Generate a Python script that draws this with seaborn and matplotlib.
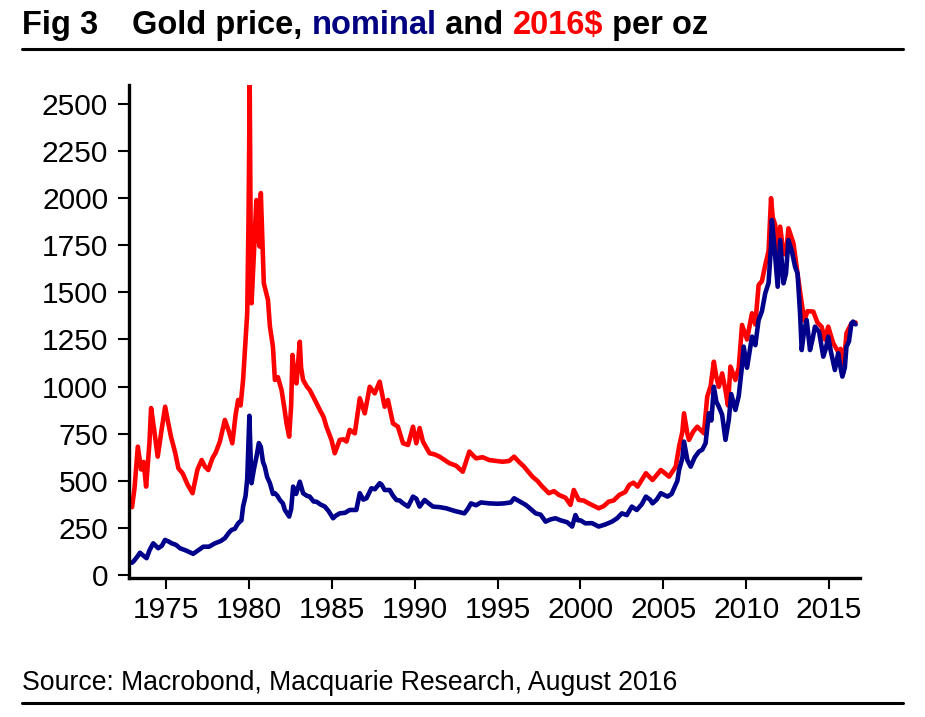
import pandas as pd
import matplotlib
matplotlib.use('Agg')
from matplotlib import pyplot as plt
from matplotlib.lines import Line2D
import seaborn as sns

# Gold price in nominal US$ per oz
nominal_years = [1972.95, 1973.03, 1973.25, 1973.43, 1973.6, 1973.83, 1974.0, 1974.23, 1974.53, 1974.75,
                 1974.94, 1975.15, 1975.34, 1975.6, 1975.84, 1976.2, 1976.64, 1976.9, 1977.25, 1977.6,
                 1977.95, 1978.3, 1978.55, 1978.8, 1978.96, 1979.15, 1979.35, 1979.55, 1979.65, 1979.8,
                 1979.9, 1979.97, 1980.03, 1980.1, 1980.16, 1980.3, 1980.46, 1980.6, 1980.72, 1980.85,
                 1980.96, 1981.1, 1981.27, 1981.45, 1981.57, 1981.72, 1981.87, 1982.05, 1982.17, 1982.43,
                 1982.55, 1982.67, 1982.85, 1983.07, 1983.15, 1983.27, 1983.5, 1983.67, 1983.9, 1984.08,
                 1984.3, 1984.58, 1984.8, 1985.08, 1985.25, 1985.48, 1985.8, 1986.08, 1986.48, 1986.69,
                 1986.9, 1987.09, 1987.39, 1987.6, 1987.89, 1988.0, 1988.19, 1988.49, 1988.7, 1988.9,
                 1989.1, 1989.3, 1989.6, 1989.9, 1990.1, 1990.3, 1990.6, 1990.85, 1991.1, 1991.5,
                 1991.9, 1992.4, 1993.0, 1993.2, 1993.4, 1993.7, 1994.0, 1994.5, 1995.0, 1995.4,
                 1995.8, 1996.0, 1996.3, 1996.7, 1997.0, 1997.3, 1997.6, 1997.9, 1998.2, 1998.5,
                 1998.8, 1999.2, 1999.5, 1999.7, 1999.85, 2000.0, 2000.3, 2000.7, 2001.1, 2001.5,
                 2001.9, 2002.2, 2002.5, 2002.8, 2003.1, 2003.4, 2003.7, 2003.95, 2004.2, 2004.35,
                 2004.6, 2004.85, 2005.05, 2005.25, 2005.5, 2005.65, 2005.85, 2005.95, 2006.15, 2006.25,
                 2006.45, 2006.65, 2006.9, 2007.15, 2007.35, 2007.55, 2007.75, 2007.9, 2008.05, 2008.2,
                 2008.35, 2008.55, 2008.75, 2008.95, 2009.1, 2009.35, 2009.55, 2009.75, 2009.85, 2010.05,
                 2010.35, 2010.55, 2010.75, 2010.95, 2011.15, 2011.35, 2011.5, 2011.55, 2011.7, 2011.9,
                 2012.05, 2012.25, 2012.4, 2012.55, 2012.75, 2012.95, 2013.1, 2013.25, 2013.35, 2013.5,
                 2013.65, 2013.85, 2014.0, 2014.15, 2014.4, 2014.65, 2014.8, 2014.95, 2015.1, 2015.35,
                 2015.55, 2015.65, 2015.8, 2015.95, 2016.05, 2016.2, 2016.35, 2016.45, 2016.6]
nominal_values = [65, 71, 95, 118, 105, 89, 130, 168, 142, 155,
                  186, 178, 168, 160, 142, 130, 112, 128, 150, 150,
                  168, 180, 195, 225, 239, 245, 274, 290, 363, 420,
                  510, 700, 845, 640, 487, 560, 628, 700, 680, 600,
                  575, 520, 487, 430, 434, 420, 398, 380, 345, 310,
                  350, 469, 430, 495, 470, 434, 420, 416, 390, 389,
                  375, 363, 340, 301, 315, 327, 330, 345, 345, 434,
                  400, 407, 460, 455, 487, 480, 451, 451, 420, 398,
                  395, 380, 363, 416, 405, 363, 398, 380, 363, 360,
                  354, 340, 327, 350, 380, 370, 385, 380, 378, 380,
                  385, 407, 392, 372, 350, 327, 320, 283, 295, 301,
                  290, 280, 257, 318, 290, 290, 274, 275, 257, 268,
                  283, 300, 327, 318, 363, 345, 375, 416, 400, 380,
                  400, 434, 425, 416, 430, 460, 500, 557, 620, 708,
                  610, 575, 625, 655, 665, 699, 858, 820, 999, 920,
                  893, 850, 717, 823, 960, 876, 950, 1110, 1212, 1100,
                  1265, 1220, 1353, 1400, 1495, 1550, 1750, 1884, 1743, 1530,
                  1778, 1548, 1600, 1778, 1720, 1636, 1600, 1389, 1194, 1300,
                  1353, 1194, 1250, 1318, 1290, 1159, 1200, 1265, 1190, 1088,
                  1177, 1120, 1053, 1100, 1212, 1240, 1336, 1345, 1330]

# Gold price in 2016 dollars per oz
real_years = [1972.95, 1973.1, 1973.3, 1973.5, 1973.65, 1973.8, 1974.0, 1974.1, 1974.3, 1974.5,
              1974.75, 1974.95, 1975.15, 1975.3, 1975.55, 1975.75, 1976.0, 1976.3, 1976.6, 1976.9,
              1977.15, 1977.35, 1977.55, 1977.8, 1978.0, 1978.25, 1978.55, 1978.8, 1979.0, 1979.2,
              1979.35, 1979.5, 1979.65, 1979.75, 1979.9, 1979.98, 1980.05, 1980.1, 1980.16, 1980.3,
              1980.45, 1980.55, 1980.65, 1980.72, 1980.9, 1981.15, 1981.27, 1981.45, 1981.57, 1981.75,
              1981.97, 1982.15, 1982.27, 1982.43, 1982.55, 1982.63, 1982.75, 1982.87, 1983.07, 1983.15,
              1983.27, 1983.5, 1983.67, 1983.98, 1984.28, 1984.5, 1984.68, 1984.98, 1985.18, 1985.48,
              1985.7, 1985.89, 1986.08, 1986.39, 1986.69, 1986.99, 1987.29, 1987.59, 1987.89, 1988.19,
              1988.39, 1988.69, 1988.99, 1989.3, 1989.6, 1989.9, 1990.1, 1990.3, 1990.5, 1990.9,
              1991.2, 1991.5, 1992.1, 1992.5, 1992.9, 1993.3, 1993.7, 1994.1, 1994.5, 1995.3,
              1995.7, 1996.0, 1996.3, 1996.6, 1997.1, 1997.4, 1997.7, 1998.1, 1998.4, 1998.7,
              1999.1, 1999.4, 1999.6, 1999.9, 2000.2, 2000.5, 2001.1, 2001.4, 2001.7, 2002.0,
              2002.35, 2002.7, 2002.95, 2003.2, 2003.45, 2003.95, 2004.35, 2004.6, 2004.85, 2005.1,
              2005.35, 2005.75, 2005.95, 2006.15, 2006.25, 2006.45, 2006.55, 2006.8, 2007.05, 2007.25,
              2007.45, 2007.65, 2007.85, 2008.05, 2008.2, 2008.35, 2008.55, 2008.75, 2008.9, 2009.05,
              2009.35, 2009.55, 2009.75, 2010.05, 2010.35, 2010.55, 2010.75, 2010.95, 2011.15, 2011.35,
              2011.5, 2011.6, 2011.75, 2011.9, 2012.05, 2012.25, 2012.4, 2012.55, 2012.7, 2012.85,
              2013.15, 2013.35, 2013.5, 2013.7, 2014.05, 2014.3, 2014.55, 2014.75, 2014.95, 2015.25,
              2015.55, 2015.7, 2015.85, 2016.05, 2016.35, 2016.5, 2016.6]
real_values = [360, 460, 681, 560, 600, 469, 700, 886, 760, 628,
               780, 893, 800, 734, 650, 566, 540, 480, 434, 560,
               610, 575, 557, 620, 650, 708, 823, 760, 699, 850,
               929, 900, 1035, 1178, 1391, 1900, 2600, 1900, 1442, 1700,
               1990, 1800, 1743, 2027, 1549, 1460, 1318, 1212, 1035, 1050,
               982, 880, 805, 734, 900, 1168, 1050, 1017, 1238, 1100,
               1035, 1000, 982, 929, 876, 840, 787, 717, 646, 717,
               720, 708, 770, 752, 938, 858, 999, 964, 1026, 893,
               929, 805, 787, 699, 690, 787, 699, 780, 708, 646,
               640, 628, 593, 580, 548, 655, 619, 625, 610, 601,
               605, 628, 600, 575, 522, 500, 469, 434, 445, 425,
               410, 372, 451, 398, 395, 380, 354, 365, 389, 395,
               425, 440, 478, 490, 469, 540, 504, 530, 557, 540,
               522, 575, 681, 760, 858, 750, 717, 760, 787, 770,
               752, 947, 1000, 1132, 1050, 999, 1070, 982, 900, 1106,
               1035, 1100, 1327, 1250, 1389, 1330, 1539, 1560, 1645, 1720,
               2000, 1900, 1858, 1700, 1849, 1707, 1700, 1840, 1800, 1761,
               1566, 1442, 1350, 1400, 1398, 1340, 1318, 1250, 1318, 1230,
               1185, 1200, 1071, 1283, 1336, 1336, 1340]

y_ticks = [0, 250, 500, 750, 1000, 1250, 1500, 1750, 2000, 2250, 2500]
x_ticks = [1975, 1980, 1985, 1990, 1995, 2000, 2005, 2010, 2015]

red = '#ff0000'
navy = '#00008b'

df = pd.concat([
    pd.DataFrame({'year': real_years, 'price': real_values, 'series': '2016$'}),
    pd.DataFrame({'year': nominal_years, 'price': nominal_values, 'series': 'nominal'}),
])

sns.set_style('ticks')
plt.rcParams['font.family'] = ['Liberation Sans', 'DejaVu Sans']
plt.rcParams['text.color'] = 'black'

fig = plt.figure(figsize=(9.25, 7.17), dpi=100)
ax = fig.add_axes([0.1395, 0.1939, 0.7903, 0.6876])

sns.lineplot(data=df, x='year', y='price', hue='series', hue_order=['2016$', 'nominal'],
             palette={'2016$': red, 'nominal': navy}, estimator=None, sort=False,
             linewidth=3.3, legend=False, ax=ax)

ax.set_xlim(1972.77, 2016.87)
ax.set_ylim(-16, 2601)
ax.set_xticks(x_ticks)
ax.set_yticks(y_ticks)
ax.set_xlabel('')
ax.set_ylabel('')
sns.despine(ax=ax)
for side in ['left', 'bottom']:
    ax.spines[side].set_linewidth(2.4)
    ax.spines[side].set_color('black')
ax.tick_params(axis='both', direction='out', length=8, width=1.5, color='black',
               labelsize=21.5, labelcolor='black')
ax.tick_params(axis='x', pad=5)
ax.tick_params(axis='y', pad=7)

# Title with coloured words
title_size = 23.5
title_y = 1 - 34 / 717
fig.text(22 / 925, title_y, 'Fig 3', fontsize=title_size, fontweight='bold', color='black',
         va='baseline', ha='left')
renderer = fig.canvas.get_renderer()
x = 132 / 925
for piece, col in [('Gold price, ', 'black'), ('nominal', '#000080'), (' and ', 'black'),
                   ('2016$', red), (' per oz', 'black')]:
    t = fig.text(x, title_y, piece, fontsize=title_size, fontweight='bold',
                 color=col, va='baseline', ha='left')
    x = t.get_window_extent(renderer).x1 / fig.bbox.width

fig.add_artist(Line2D([22 / 925, 903 / 925], [1 - 49 / 717] * 2, lw=2.2, color='black',
                      transform=fig.transFigure))
fig.text(22 / 925, 1 - 690 / 717, 'Source: Macrobond, Macquarie Research, August 2016',
         fontsize=19.2, color='black', va='baseline', ha='left')
fig.add_artist(Line2D([22 / 925, 903 / 925], [1 - 703 / 717] * 2, lw=2.2, color='black',
                      transform=fig.transFigure))

plt.savefig('out.png', dpi=100)
